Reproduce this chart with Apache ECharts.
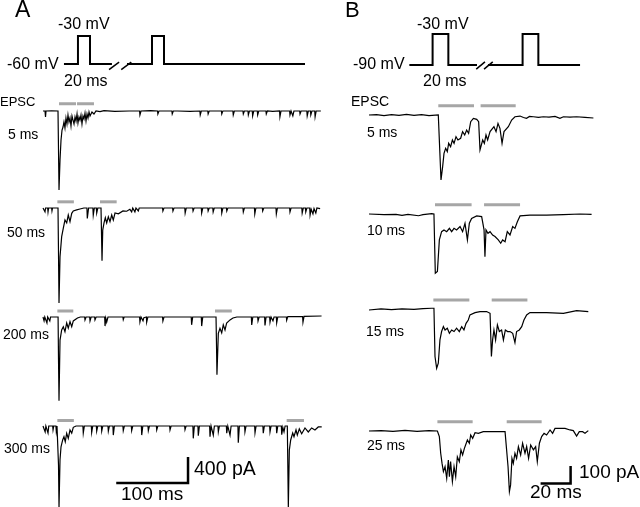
<!DOCTYPE html>
<html><head><meta charset="utf-8">
<script src="https://cdn.jsdelivr.net/npm/echarts@6/dist/echarts.min.js"></script>
<style>html,body{margin:0;padding:0;background:#fff}#c{width:640px;height:507px}</style>
</head><body><div id="c"></div>
<script>
// ---------- voltage protocols (time ms, voltage mV) ----------
const protoA_first = [[29.2,-60],[48.7,-60],[48.7,-30],[65.5,-30],[65.5,-60],[96,-60]];
const protoA_second = [[117,-60],[151.8,-60],[151.8,-30],[168.5,-30],[168.5,-60],[364.9,-60]];
const protoA_breaks = [[[92,-66],[106,-58]],[[109,-66],[123,-58]]];
const protoB_first = [[26.9,-90],[42.4,-90],[42.4,-30],[52.9,-30],[52.9,-90],[72,-90]];
const protoB_second = [[79.3,-90],[102.4,-90],[102.4,-30],[112.9,-30],[112.9,-90],[140.7,-90]];
const protoB_breaks = [[[71.5,-98],[77.3,-84]],[[76.7,-98],[82.5,-84]]];

// ---------- panel A EPSC traces (time ms, current pA) ----------
const traceA_5ms = [[0,0],[2.8,0],[3.5,-92],[4.2,0],[12,4],[20.9,0],[21.6,-600],[22.3,-1216],[23.7,-755],[25.1,-447],[26.5,-293],[27.9,-246],[29.2,-169],[30.6,-262],[32,-108],[33.4,-200],[34.8,-62],[36.2,-169],[37.6,-108],[39,-231],[40.4,-77],[41.8,-139],[43.2,-200],[44.6,-92],[46,-154],[47.4,-46],[48.7,-185],[50.1,-92],[51.5,-139],[52.9,-62],[54.3,-200],[55.7,-77],[57.1,-123],[58.5,-31],[59.9,-154],[61.3,-46],[62.7,-108],[64.1,-15],[65.5,-77],[68.2,-15],[71,-46],[73.8,0],[79.4,-8],[85,5],[100,-5],[120,0],
[134.5,0],[135,-60],[136.5,0],[150,5],[159.5,0],[160,-45],[161.5,0],[170.5,0],[171,-30],[172.5,0],[179.5,0],[180,-45],[181.5,0],[187.5,0],[188,-30],[189.5,0],[205,-5],[218.5,0],[219,-60],[220.5,0],[229.5,0],[230,-45],[231.5,0],[239.5,0],[240,-30],[241.5,0],[248.5,0],[249,-45],[250.5,0],[264.5,0],[265,-60],[266.5,0],[278.5,0],[279,-45],[280.5,0],[285.5,0],[286,-60],[287.5,0],[291.5,0],[292,-75],[293.5,0],[298.5,0],[299,-60],[300.5,0],[310.5,0],[311,-45],[312.5,0],[320,-5],[329.5,0],[330,-90],[331.5,0],[343.5,0],[344,-60],[345.5,0],[347.5,0],[348,-75],[349.5,0],[357.5,0],[358,-45],[359.5,0],[367.5,0],[368,-75],[369.5,0],[372.5,0],[373,-60],[374.5,0],[378.5,0],[379,-90],[380.5,0],[387,0]];

const traceA_50ms = [[0,0],[2.3,0],[2.8,-60],[3.6,0],[6.5,0],[7,-60],[7.8,0],[12,0],[12.5,-45],[13.3,0],[20.9,0],[21.6,-700],[22.3,-1460],[23.7,-750],[26,-440],[28.3,-310],[30.6,-185],[33,-230],[35.2,-108],[37.6,-210],[40,-82],[42.2,-45],[46.9,-30],[51.5,-15],[57,0],[61.2,0],[61.7,-160],[63.5,0],[69.5,0],[70,-108],[71.5,0],[74.3,0],[74.8,-77],[76.3,0],[80.8,0],[81.5,-400],[82.2,-810],[83.2,-340],[85,-230],[86.8,-150],[88.7,-230],[91,-135],[93.3,-210],[95.7,-108],[97.9,-185],[100.3,-77],[102.6,-60],[105,-90],[107.2,-77],[111.4,-45],[116.6,-50],[121,-20],[123,0],[123.5,-60],[125,0],[127.5,0],[128,-60],[129.5,0],[132.2,0],[132.7,-45],[134,0],
[166.5,0],[167,-45],[168.5,0],[180.5,0],[181,-45],[182.5,0],[197.5,0],[198,-77],[199.5,0],[208.5,0],[209,-45],[210.5,0],[220.5,0],[221,-77],[222.5,0],[229.5,0],[230,-45],[231.5,0],[236.5,0],[237,-60],[238.5,0],[248.5,0],[249,-77],[250.5,0],[255.5,0],[256,-45],[257.5,0],[278.5,0],[279,-60],[280.5,0],[294.5,0],[295,-92],[296.5,0],[305.5,0],[306,-45],[307.5,0],[324.5,0],[325,-92],[326.5,0],[343.5,0],[344,-60],[345.5,0],[360.5,0],[361,-77],[362.5,0],[365.5,0],[366,-60],[367.5,0],[371.5,0],[372,-108],[373.5,-20],[375.5,0],[376,-92],[377.5,-10],[379.5,0],[380,-77],[381.5,0],[386,-10]];

const traceA_200ms = [[0,0],[1,0],[1.5,-60],[2.5,0],[5,0],[5.5,-90],[6.5,0],[9,0],[9.5,-60],[10.5,0],[21,0],[21.6,-650],[22.3,-1290],[23.7,-355],[26,-200],[28.3,-150],[30.6,-225],[33,-92],[35.2,-170],[37.6,-70],[40,-150],[42.2,-60],[44.6,-45],[48,-15],[52,0],[58,0],[58.5,-45],[60,0],[65,0],[65.5,-60],[67,0],[71.9,0],[72.4,-45],[74,0],[85.9,0],[86.4,-140],[87.5,-20],[88.7,-80],[90.5,0],[111.3,0],[111.8,-40],[113,0],[125,0],[125.4,-30],[126.5,0],[134.5,0],[135,-75],[136.5,0],[138.8,0],[139.3,-60],[140.5,-10],[144,0],[144.4,-80],[146,0],[166.5,0],[167,-60],[168.5,0],[206.5,0],[207,-120],[208.5,0],[220.5,0],[221,-140],[222.5,0],
[241,0],[241.7,-450],[242.3,-890],[244.2,-250],[246.5,-175],[248.9,-245],[251.1,-120],[253.5,-200],[255.8,-92],[260.5,-45],[264.6,-15],[270,0],
[290.2,0],[290.7,-123],[292.2,0],[299,0],[299.5,-60],[301,0],[308.7,0],[309.2,-130],[310.7,0],[315.7,0],[316.2,-80],[317.7,0],[319.8,0],[320.3,-60],[321.8,0],[325,0],[325.5,-90],[327,0],[339,0],[339.4,-50],[341,5],[361.6,5],[362.1,-80],[363.6,10],[388,15]];

const traceA_300ms = [[0,0],[2.5,0],[3,-90],[4,0],[6.5,0],[7,-108],[8,0],[13.5,0],[14,-60],[15,0],[18,0],[18.5,-80],[19.5,0],[21,0],[21.6,-600],[22.3,-1250],[23.7,-520],[25.1,-320],[27.4,-215],[29.2,-165],[31,-240],[33,-113],[35.2,-190],[37.6,-62],[40,-110],[42.2,-20],[46,0],
[55.6,0],[56.1,-108],[57.6,0],[67.3,0],[67.8,-100],[69.3,0],[74.3,0],[74.8,-80],[76.3,0],[81.3,0],[81.8,-80],[83.3,0],[90.5,0],[91,-80],[92.5,0],[97.4,0],[97.9,-140],[99.4,0],[111.3,0],[111.8,-70],[113.3,0],[123,0],[123.5,-70],[125,0],[137,0],[137.5,-140],[139,0],[146.2,0],[146.7,-70],[148.2,0],[157.9,0],[158.4,-60],[159.9,0],[176.4,0],[176.9,-60],[178.4,0],[197.3,0],[197.8,-55],[199.3,0],[208.8,0],[209.3,-190],[210.8,0],[215.8,0],[216.3,-150],[217.8,0],[232.1,0],[232.6,-165],[234.1,0],[236.7,0],[237.2,-140],[238.7,0],[243.7,0],[244.2,-90],[245.7,0],[255.4,0],[255.9,-110],[257.4,0],[260,0],[260.5,-140],[262,0],[271.5,0],[272,-257],[273.5,0],[280.8,0],[281.3,-90],[282.8,0],[294.8,0],[295.3,-105],[296.8,0],[306.3,0],[306.8,-110],[308.3,0],[315.7,0],[316.2,-90],[317.7,0],[325,0],[325.5,-110],[327,0],[332,0],[332.5,-135],[334,-20],[335.2,0],[335.7,-90],[337.2,0],
[340.3,0],[341,-600],[341.7,-1250],[343.1,-370],[345,-215],[347.8,-108],[349.6,-165],[352.4,-60],[354.2,-140],[357,-45],[360.3,-120],[364.9,-30],[369.5,-92],[374.2,-30],[378.8,-60],[383.4,-15],[388.2,-15]];

// pulse markers (gray bars) for panel A: [start ms, end ms]
const barsA_5ms = [[22.3,46],[47.4,71]];
const barsA_50ms = [[20,43],[79.4,102.6]];
const barsA_200ms = [[20,42.2],[239.6,263]];
const barsA_300ms = [[20,43],[339.4,363.5]];
const barLevelA = [110, 95, 92, 85];

// ---------- panel B EPSC traces (time ms, current pA) ----------
const traceB_5ms = [[0,0],[5,2],[10,-3],[15,2],[20,-2],[25,3],[30,-2],[35,2],[40,-3],[46.2,0],[48,-371],[49.1,-295],[50,-219],[51.1,-190],[52.2,-209],[53.1,-162],[54.4,-181],[55.6,-143],[56.7,-162],[58,-124],[59.3,-143],[61.1,-133],[62.4,-95],[63.8,-114],[65.1,-86],[66.4,-105],[67.8,-38],[69.6,-19],[71.8,-25],[73.1,-38],[74,-200],[74.7,-209],[75.8,-143],[76.9,-162],[78,-114],[79.1,-143],[80.7,-95],[82,-105],[83.3,-67],[84.7,-95],[86,-48],[87.3,-76],[88.7,-162],[90,-95],[91.3,-105],[92.9,-67],[95.1,-29],[97.3,-10],[100.7,-6],[103,-14],[105,-19],[107,-8],[109.6,-10],[113,-14],[116.2,-10],[120,-12],[124,-8],[127.3,-19],[129.6,-10],[134,-12],[138.4,-10],[144,-14],[149.6,-17]];
const traceB_10ms = [[0,0],[10,-4],[18,-2],[22,-8],[26,-2],[33,-10],[36,-4],[41.8,2],[43.3,0],[44.2,-339],[45.6,-329],[46.9,-148],[48.4,-101],[50,-91],[51.8,-101],[53.6,-82],[55.1,-101],[56.7,-82],[58.4,-91],[60.7,-72],[62.4,-101],[64,-53],[65.6,-148],[66.9,-53],[68.4,-25],[71.8,-11],[75.1,-15],[76.7,-91],[77.3,-244],[78,-91],[79.3,-110],[80.7,-101],[82.4,-120],[84,-129],[86.2,-148],[87.8,-167],[89.1,-148],[90.7,-158],[92.2,-101],[94,-120],[95.8,-72],[97.3,-82],[98.9,-44],[100.7,-11],[107.3,-6],[118.4,-6],[129.6,-4],[140.7,0],[148.4,-2]];
const traceB_15ms = [[0,-4],[8,2],[15,-2],[22,2],[30,0],[36,4],[41.8,6],[43.3,6],[44,-270],[45.1,-337],[46.2,-308],[47.3,-175],[48.4,-127],[49.6,-99],[50.7,-118],[52.2,-108],[53.6,-137],[55.1,-118],[56.7,-127],[58.4,-108],[60.2,-127],[61.8,-99],[63.3,-118],[64.7,-80],[66.2,-61],[67.3,-32],[70.7,-19],[74,-13],[78.4,-13],[80.7,-23],[81.6,-270],[82.4,-175],[83.3,-118],[84.4,-175],[85.6,-89],[86.9,-127],[88.4,-118],[89.6,-175],[90.9,-118],[92.4,-127],[94,-127],[95.8,-137],[97.3,-190],[98.4,-127],[100.2,-118],[101.8,-99],[103.3,-61],[105.1,-32],[107.3,-19],[118.4,-19],[129.6,-23],[138.4,-8],[146.2,-13]];
const traceB_25ms = [[0,0],[8,2],[16,-2],[24,3],[32,-2],[40,2],[45.6,0],[46.9,-32],[47.8,-127],[48.7,-185],[49.6,-232],[50.7,-204],[51.8,-270],[52.9,-166],[53.6,-261],[54.4,-175],[55.6,-289],[56.7,-204],[57.8,-261],[58.9,-147],[60.2,-175],[61.3,-108],[62.4,-137],[63.6,-99],[64.7,-108],[65.6,-51],[66.9,-70],[67.8,-23],[69.1,-42],[70.7,-10],[72.9,-13],[76.2,-4],[82.9,-4],[90.7,-4],[91.8,-13],[92.7,-204],[93.6,-346],[94.4,-308],[95.3,-156],[96.2,-185],[97.3,-127],[98.4,-156],[99.6,-89],[101.1,-137],[102.4,-70],[104,-127],[105.1,-89],[106.4,-156],[107.8,-80],[109.6,-108],[111.1,-89],[112.2,-175],[113.6,-70],[115.1,-32],[116.7,-13],[118.4,-23],[120.7,6],[122.4,-13],[124,15],[127.3,15],[130.7,15],[134,6],[136.2,2],[138.4,-29],[140.2,-4],[142.4,-4],[144,-13],[146.2,2]];

const barsB_5ms = [[46.2,70],[74.4,97.8]];
const barsB_10ms = [[44,68.4],[76.7,100.7]];
const barsB_15ms = [[42.9,66.9],[81.8,105.6]];
const barsB_25ms = [[45.6,69.1],[91.8,115.1]];
const barLevelB = 53;

// scale bars
const scaleA = {ms: 100, pA: 400};
const scaleB = {ms: 20, pA: 100};

// labels
const labelsA = ['5 ms', '50 ms', '200 ms', '300 ms'];
const labelsB = ['5 ms', '10 ms', '15 ms', '25 ms'];

// ---------- layout ----------
const FONT = '"Liberation Sans", Arial, Helvetica, sans-serif';
const PX_A = 15.385; // pA per pixel, panel A
const PX_B = 5.714;  // pA per pixel, panel B
function gA(top, lo) { return {left:43, top:top, width:280, height:(200 - lo) / PX_A, x:[0,390], y:[lo,200]}; }
function gB(top, lo) { return {left:369, top:top, width:225, height:(100 - lo) / PX_B, x:[0,150], y:[lo,100]}; }
const grids = [
  {left:43, top:26.7, width:280, height:46.7, x:[0,390], y:[-70,-20]},   // 0 protocol A
  {left:369, top:28.8, width:225, height:41.3, x:[0,150], y:[-100,-20]}, // 1 protocol B
  gA(98, -1600), gA(195, -1600), gA(304, -1600), gA(413, -1220),
  gB(97.5, -500), gB(196.5, -500), gB(291.8, -500), gB(413.5, -400)
];
const scaleAPos = {t: 202, i: -878};
const scaleBPos = {t: 134.4, i: -300};

function ln(idx, data, color, width) {
  return {type:'line', xAxisIndex:idx, yAxisIndex:idx, data:data, symbol:'none', showSymbol:false,
    lineStyle:{color:color, width:width, cap:'butt', join:'miter'}, silent:true, animation:false, clip:false, z:3};
}
const series = [];
const BLACK = '#000', GRAY = '#a6a6a6';
series.push(ln(0, protoA_first, BLACK, 2));
series.push(ln(0, protoA_second, BLACK, 2));
protoA_breaks.forEach(b => series.push(ln(0, b, BLACK, 1.5)));
series.push(ln(1, protoB_first, BLACK, 2));
series.push(ln(1, protoB_second, BLACK, 2));
protoB_breaks.forEach(b => series.push(ln(1, b, BLACK, 1.5)));

const tracesA = [traceA_5ms, traceA_50ms, traceA_200ms, traceA_300ms];
const barsA = [barsA_5ms, barsA_50ms, barsA_200ms, barsA_300ms];
const tracesB = [traceB_5ms, traceB_10ms, traceB_15ms, traceB_25ms];
const barsB = [barsB_5ms, barsB_10ms, barsB_15ms, barsB_25ms];
tracesA.forEach((tr, k) => {
  series.push(ln(2 + k, tr, BLACK, 1.2));
  barsA[k].forEach(b => series.push(ln(2 + k, [[b[0], barLevelA[k]], [b[1], barLevelA[k]]], GRAY, 3)));
});
tracesB.forEach((tr, k) => {
  series.push(ln(6 + k, tr, BLACK, 1.2));
  barsB[k].forEach(b => series.push(ln(6 + k, [[b[0], barLevelB], [b[1], barLevelB]], GRAY, 3)));
});
// scale bars
series.push(ln(5, [[scaleAPos.t - scaleA.ms, scaleAPos.i], [scaleAPos.t, scaleAPos.i], [scaleAPos.t, scaleAPos.i + scaleA.pA]], BLACK, 2.5));
series.push(ln(9, [[scaleBPos.t - scaleB.ms, scaleBPos.i], [scaleBPos.t, scaleBPos.i], [scaleBPos.t, scaleBPos.i + scaleB.pA]], BLACK, 2.5));

function txt(text, x, y, size) {
  return {type:'text', x:x, y:y, silent:true, z:10,
    style:{text:text, x:0, y:0, font: size + 'px ' + FONT, fontSize:size, fontFamily:FONT, fill:'#000',
      textAlign:'left', align:'left', textVerticalAlign:'middle', verticalAlign:'middle'}};
}
const graphics = [
  txt('A', 15, 11, 23), txt('B', 345, 11, 22),
  txt('-30 mV', 58, 25, 16), txt('-60 mV', 7, 64.5, 16), txt('20 ms', 64, 81.5, 16),
  txt('-30 mV', 417, 25, 16), txt('-90 mV', 353, 65, 16), txt('20 ms', 423, 82, 16),
  txt('EPSC', 0, 102, 13), txt('EPSC', 351, 102, 14),
  txt(labelsA[0], 8, 135, 14), txt(labelsA[1], 7, 233.5, 14), txt(labelsA[2], 3, 335, 14), txt(labelsA[3], 4, 449.5, 14),
  txt(labelsB[0], 367, 133, 14), txt(labelsB[1], 367, 231.5, 14), txt(labelsB[2], 366, 332.5, 14), txt(labelsB[3], 367, 446, 14),
  txt(scaleA.pA + ' pA', 194, 470, 19.5), txt(scaleA.ms + ' ms', 121, 495, 19),
  txt(scaleB.pA + ' pA', 579, 473, 19), txt(scaleB.ms + ' ms', 530, 493, 19)
];

const chart = echarts.init(document.getElementById('c'), null, {renderer:'canvas'});
chart.setOption({
  animation: false,
  backgroundColor: '#fff',
  grid: grids.map(g => ({left:g.left, top:g.top, width:g.width, height:g.height, containLabel:false, show:false})),
  xAxis: grids.map((g, i) => ({type:'value', gridIndex:i, min:g.x[0], max:g.x[1], show:false})),
  yAxis: grids.map((g, i) => ({type:'value', gridIndex:i, min:g.y[0], max:g.y[1], show:false})),
  series: series,
  graphic: graphics
});
</script></body></html>
